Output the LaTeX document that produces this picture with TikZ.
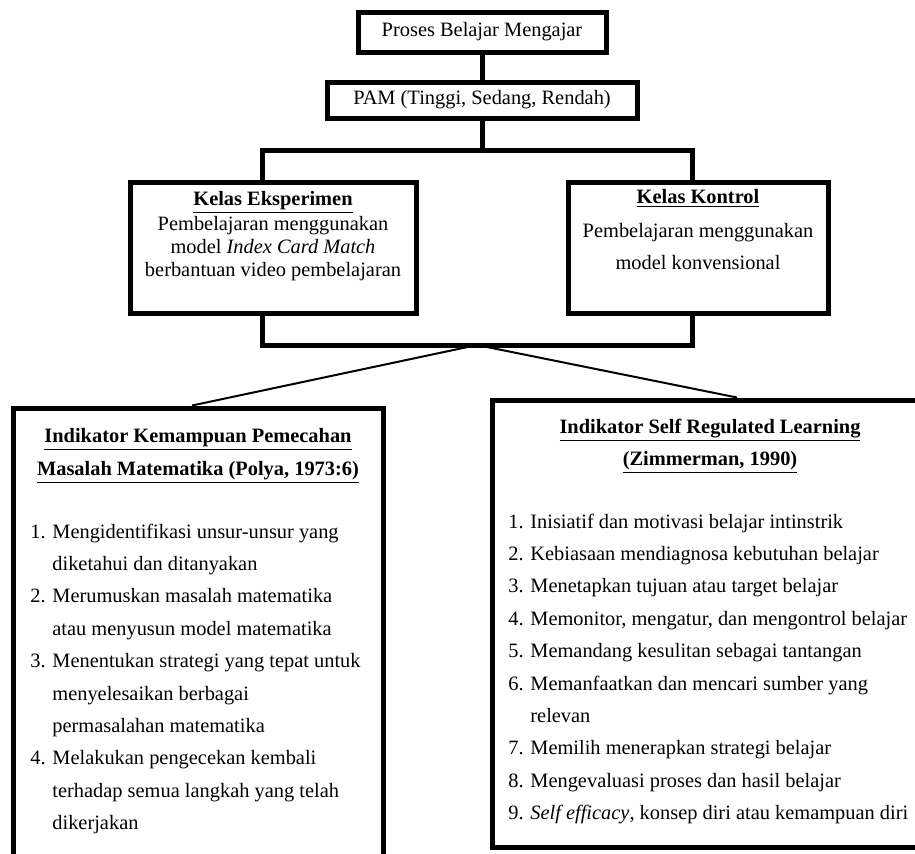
\documentclass[tikz,border=0pt]{standalone}
\usepackage{fontspec}
\setmainfont{Liberation Serif}
\usetikzlibrary{positioning}
\tikzset{box/.style={draw=black, line width=2.5pt, rectangle, inner sep=0pt},
txt/.style={inner sep=0pt, anchor=base, font=\fontsize{10.2}{12}\selectfont},
%list lines, one node per printed line
item/.style={inner sep=0pt, anchor=base west, font=\fontsize{10.2}{12}\selectfont},
link/.style={line width=2.5pt},
thinlink/.style={line width=1pt}}

\begin{document}
\begin{tikzpicture}[x=0.5pt,y=-0.5pt]
\useasboundingbox (0,0) rectangle (915,853);
\clip (0,0) rectangle (915,853);

% top of the chart
\node[box, minimum width=124pt, minimum height=20pt, font=\fontsize{10.2}{12}\selectfont] (pbm) at (482,32) {Proses Belajar Mengajar};
\node[box, minimum width=155pt, minimum height=18pt, font=\fontsize{10.2}{12}\selectfont] (pam) at (482,100) {PAM (Tinggi, Sedang, Rendah)};

% the two classes
\node[box, minimum width=143pt, minimum height=65.5pt] (eks) at (273,247.5) {};
\node[box, minimum width=130pt, minimum height=65.5pt] (kon) at (698,247.5) {};

\node[txt] (eks1) at (273,205) {\underline{\textbf{Kelas Eksperimen}}};
\node[txt] (eks2) at (273,230) {Pembelajaran menggunakan};
\node[txt] (eks3) at (273,253) {model \textit{Index Card Match}};
\node[txt] (eks4) at (273,276) {berbantuan video pembelajaran};

\node[txt] (kon1) at (698,203) {\underline{\textbf{Kelas Kontrol}}};
\node[txt] (kon2) at (698,237) {Pembelajaran menggunakan};
\node[txt] (kon3) at (698,269) {model konvensional};

% indicator boxes
\node[box, minimum width=185pt, minimum height=236pt] (ind1) at (198,644) {};
\node[box, minimum width=218pt, minimum height=223.5pt] (ind2) at (710,623.5) {};

\node[txt] (ind1a) at (198,442) {\underline{\textbf{Indikator Kemampuan Pemecahan}}};
\node[txt] (ind1b) at (198,475) {\underline{\textbf{Masalah Matematika (Polya, 1973:6)}}};
\node[txt] (ind2a) at (710,433) {\underline{\textbf{Indikator Self Regulated Learning}}};
\node[txt] (ind2b) at (710,465) {\underline{\textbf{(Zimmerman, 1990)}}};

\foreach \n/\t [count=\i] in {1./Mengidentifikasi unsur-unsur yang,
  {}/diketahui dan ditanyakan,
  2./Merumuskan masalah matematika,
  {}/atau menyusun model matematika,
  3./Menentukan strategi yang tepat untuk,
  {}/menyelesaikan berbagai,
  {}/permasalahan matematika,
  4./Melakukan pengecekan kembali,
  {}/terhadap semua langkah yang telah,
  {}/dikerjakan}
  \node[item] (pl\i) at (30,{538+32.4*(\i-1)}) {\makebox[11pt][l]{\n}\t};

\foreach \n/\t [count=\i] in {1./Inisiatif dan motivasi belajar intinstrik,
  2./Kebiasaan mendiagnosa kebutuhan belajar,
  3./Menetapkan tujuan atau target belajar,
  4./{Memonitor, mengatur, dan mengontrol belajar},
  5./Memandang kesulitan sebagai tantangan,
  6./Memanfaatkan dan mencari sumber yang,
  {}/relevan,
  7./Memilih menerapkan strategi belajar,
  8./Mengevaluasi proses dan hasil belajar,
  9./{\textit{Self efficacy}, konsep diri atau kemampuan diri}}
  \node[item] (sl\i) at (508,{528+32.4*(\i-1)}) {\makebox[11pt][l]{\n}\t};

% connectors
\coordinate (split) at (482,150);
\coordinate (merge) at (477,345);
\draw[link] (pbm) -- (pam);
\draw[link] (pam) -- (split);
\draw[link] ([xshift=-5.5pt]eks.north) |- (split) -| ([xshift=-3pt]kon.north);
\draw[link] ([xshift=-5.5pt]eks.south) |- (merge) -| ([xshift=-3pt]kon.south);
\draw[thinlink] (merge) -- ([xshift=-3pt]ind1.north);
\draw[thinlink] (merge) -- ([xshift=13.5pt]ind2.north);

\end{tikzpicture}
\end{document}
